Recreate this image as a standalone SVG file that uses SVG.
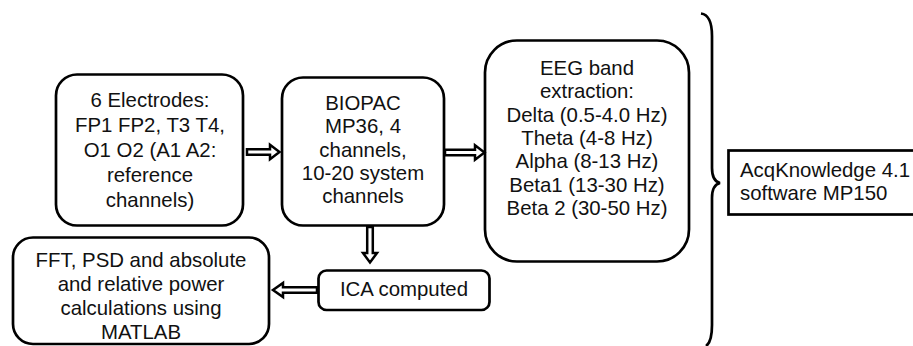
<svg xmlns="http://www.w3.org/2000/svg" width="913" height="346" viewBox="0 0 913 346">
<style>
.box{fill:#fff;stroke:#000;stroke-width:2.7}
.t{font-family:"Liberation Sans",Arial,sans-serif;font-size:20.4px;fill:#111}
.c{text-anchor:middle}
.arr{fill:#fff;stroke:#000;stroke-width:2.5;stroke-linejoin:miter}
.brace{fill:none;stroke:#000;stroke-width:2.7}
</style>
<rect width="913" height="346" fill="#fff"/>
<g id="electrodes">
<rect class="box" x="56" y="74.5" width="187" height="151" rx="21"/>
<text class="t c"><tspan x="150" y="107">6 Electrodes:</tspan><tspan x="150" y="132">FP1 FP2, T3 T4,</tspan><tspan x="150" y="157">O1 O2 (A1 A2:</tspan><tspan x="150" y="182">reference</tspan><tspan x="150" y="207">channels)</tspan></text>
</g>
<g id="biopac">
<rect class="box" x="282" y="77.5" width="162" height="148" rx="21"/>
<text class="t c"><tspan x="363" y="110">BIOPAC</tspan><tspan x="363" y="133.3">MP36, 4</tspan><tspan x="363" y="156.6">channels,</tspan><tspan x="363" y="180">10-20 system</tspan><tspan x="363" y="203.3">channels</tspan></text>
</g>
<g id="eeg">
<rect class="box" x="485" y="40.5" width="204" height="221" rx="32"/>
<text class="t c"><tspan x="587" y="75">EEG band</tspan><tspan x="587" y="98.3">extraction:</tspan><tspan x="587" y="121.6">Delta (0.5-4.0 Hz)</tspan><tspan x="587" y="145">Theta (4-8 Hz)</tspan><tspan x="587" y="168.3">Alpha (8-13 Hz)</tspan><tspan x="587" y="191.6">Beta1 (13-30 Hz)</tspan><tspan x="587" y="215">Beta 2 (30-50 Hz)</tspan></text>
</g>
<g id="ica">
<rect class="box" x="318.5" y="270.5" width="171" height="39.5" rx="8"/>
<text class="t c" x="404" y="296">ICA computed</text>
</g>
<g id="fft">
<rect class="box" x="13" y="237.5" width="256" height="106.5" rx="20"/>
<text class="t c"><tspan x="141" y="267.3">FFT, PSD and absolute</tspan><tspan x="141" y="291.3">and relative power</tspan><tspan x="141" y="315">calculations using</tspan><tspan x="141" y="338.5">MATLAB</tspan></text>
</g>
<g id="acqknowledge">
<rect class="box" x="728.5" y="150.5" width="190" height="64"/>
<text class="t"><tspan x="740" y="177">AcqKnowledge 4.1</tspan><tspan x="740" y="200">software MP150</tspan></text>
</g>
<g id="connectors">
<path class="arr" d="M247,149.2 H270 V144.8 L279.5,152 L270,159.2 V154.8 H247 Z"/>
<path class="arr" d="M445,149.7 H475 V145.3 L484.5,152.5 L475,159.7 V155.3 H445 Z"/>
<path class="arr" d="M367.2,227 V253 H363 L370,262.5 L377,253 H372.8 V227 Z"/>
<path class="arr" d="M317,287.2 H283 V283 L273,290 L283,297 V292.8 H317 Z"/>
<path class="brace" d="M701,13.5 Q712,15 712,36 L712,168 Q712,181 720,183 Q712,185 712,198 L712,325 Q712,342 706,346"/>
</g>
</svg>
